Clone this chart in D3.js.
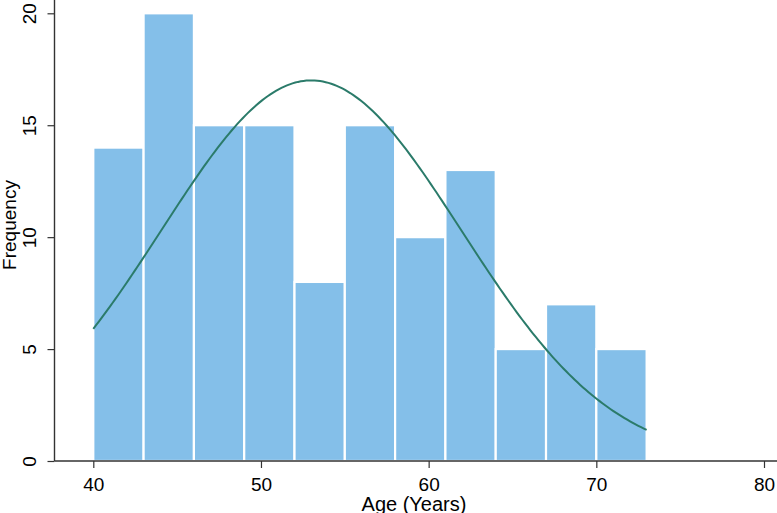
<!DOCTYPE html>
<html>
<head>
<meta charset="utf-8">
<script src="https://cdn.jsdelivr.net/npm/d3@7"></script>
<style>
  html, body { margin: 0; padding: 0; background: #fff; }
  svg { display: block; font-family: "Liberation Sans", Arial, Helvetica, sans-serif; }
</style>
</head>
<body>
<svg id="chart" width="777" height="513"></svg>
<script>
// ---- data ----
const binStarts = [40, 43, 46, 49, 52, 55, 58, 61, 64, 67, 70];
const binWidth = 3;
const frequencies = [14, 20, 15, 15, 8, 15, 10, 13, 5, 7, 5];
const xTicks = [40, 50, 60, 70, 80];
const yTicks = [0, 5, 10, 15, 20];
// fitted normal curve parameters
const curveMean = 53.0;
const curveSd = 8.94;
const curveRange = [40, 73];

const svg = d3.select("#chart");
const W = 777, H = 513;

const x = d3.scaleLinear().domain([40, 80]).range([93.3, 764]);
const y = d3.scaleLinear().domain([0, 20]).range([461, 13.3]);
const axisColor = "#333";

// bars
svg.append("g").selectAll("rect")
  .data(binStarts.map((s, i) => ({ s, v: frequencies[i] })))
  .join("rect")
  .attr("x", d => x(d.s))
  .attr("y", d => y(d.v))
  .attr("width", d => x(d.s + binWidth) - x(d.s))
  .attr("height", d => y(0) - y(d.v))
  .attr("fill", "#84BFE9")
  .attr("stroke", "#fff")
  .attr("stroke-width", 2.2);

// normal curve
const total = d3.sum(frequencies);
const density = v => total * binWidth / (curveSd * Math.sqrt(2 * Math.PI)) *
  Math.exp(-0.5 * Math.pow((v - curveMean) / curveSd, 2));
const curvePts = d3.range(0, 201).map(i => {
  const v = curveRange[0] + (curveRange[1] - curveRange[0]) * i / 200;
  return [v, density(v)];
});
svg.append("path")
  .datum(curvePts)
  .attr("fill", "none")
  .attr("stroke", "#2B7B6A")
  .attr("stroke-width", 2)
  .attr("d", d3.line().x(d => x(d[0])).y(d => y(d[1])));

// x axis
const gx = svg.append("g").attr("transform", `translate(0,${y(0)})`)
  .call(d3.axisBottom(x).tickValues(xTicks).tickSize(7).tickFormat(d3.format("d")));
gx.select(".domain").remove();
gx.selectAll(".tick line").attr("stroke", axisColor).attr("stroke-width", 1.2);
gx.selectAll(".tick text").attr("fill", "#000").attr("font-size", 19).attr("font-family", null)
  .attr("dy", null).attr("y", 29.5);
svg.append("line").attr("x1", 54.5).attr("x2", W).attr("y1", y(0)).attr("y2", y(0))
  .attr("stroke", axisColor).attr("stroke-width", 1.4);

// y axis
const gy = svg.append("g").attr("transform", `translate(54.5,0)`)
  .call(d3.axisLeft(y).tickValues(yTicks).tickSize(7).tickFormat(d3.format("d")));
gy.select(".domain").remove();
gy.selectAll(".tick line").attr("stroke", axisColor).attr("stroke-width", 1.2);
gy.selectAll(".tick text")
  .attr("fill", "#000").attr("font-size", 19).attr("font-family", null)
  .attr("x", null).attr("dy", null)
  .attr("text-anchor", "middle")
  .attr("transform", "translate(-18.5,0) rotate(-90)");
svg.append("line").attr("x1", 54.5).attr("x2", 54.5).attr("y1", 0).attr("y2", y(0))
  .attr("stroke", axisColor).attr("stroke-width", 1.4);

// titles
svg.append("text").attr("x", 414).attr("y", 510.5).attr("text-anchor", "middle")
  .attr("font-size", 20).attr("fill", "#000").text("Age (Years)");
svg.append("text").attr("transform", "translate(15.5,225) rotate(-90)").attr("text-anchor", "middle")
  .attr("font-size", 19).attr("fill", "#000").text("Frequency");
</script>
</body>
</html>
